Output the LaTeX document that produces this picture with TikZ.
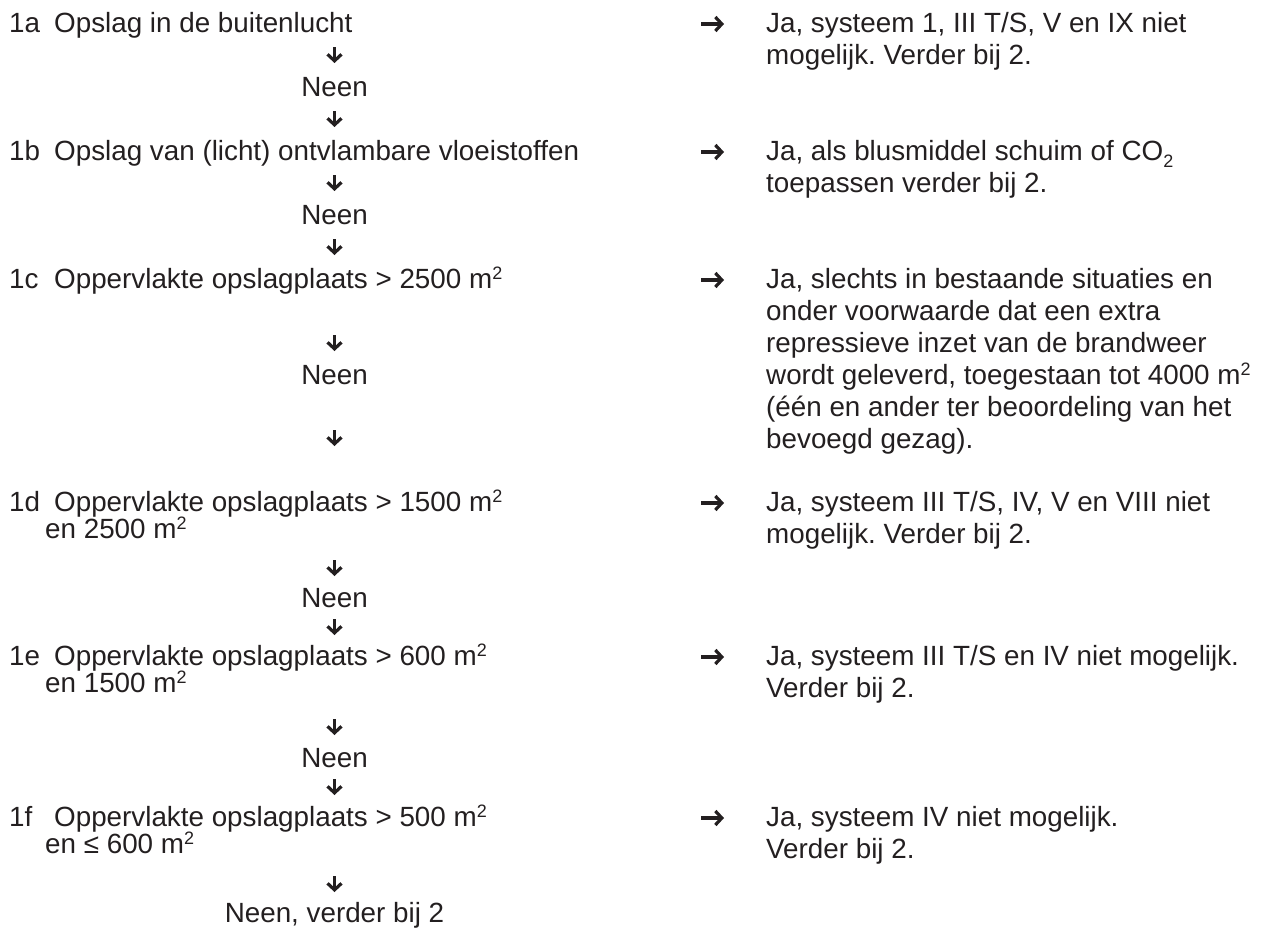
\documentclass[tikz,border=0pt]{standalone}
\usepackage{fontspec}
\setmainfont{Liberation Sans}
\usetikzlibrary{arrows.meta}
\definecolor{inkt}{RGB}{35,31,32}
\newcommand{\hoog}[1]{\raisebox{8.5pt}{\fontsize{18}{18}\selectfont #1}}
\newcommand{\laag}[1]{\raisebox{-7pt}{\fontsize{18}{18}\selectfont #1}}

\begin{document}
\frenchspacing
\begin{tikzpicture}[x=1pt,y=-1pt,
  every node/.style={inner sep=0pt,text=inkt,font=\fontsize{27.8}{32}\selectfont},
  tekst/.style={anchor=base west},
  neen/.style={anchor=base},
  pijl/.style={draw=inkt,line width=3.2pt,-{Straight Barb[length=6.5pt,width=14pt]}}]
\useasboundingbox (0,0) rectangle (1263,929);

\node[tekst] (n1a) at (9,32) {1a};
\node[tekst] (v1a) at (54,32) {Opslag in de buitenlucht};
\node[neen] (neen1) at (334.5,96) {Neen};
\node[tekst] (n1b) at (9,160) {1b};
\node[tekst] (v1b) at (54,160) {Opslag van (licht) ontvlambare vloeistoffen};
\node[neen] (neen2) at (334.5,224) {Neen};
\node[tekst] (n1c) at (9,288) {1c};
\node[tekst] (v1c) at (54,288) {Oppervlakte opslagplaats > 2500 m\hoog{2}};
\node[neen] (neen3) at (334.5,384) {Neen};
\node[tekst] (n1d) at (9,511) {1d};
\node[tekst] (v1d) at (54,511) {Oppervlakte opslagplaats > 1500 m\hoog{2}};
\node[tekst] (w1d) at (45,538) {en 2500 m\hoog{2}};
\node[neen] (neen4) at (334.5,607) {Neen};
\node[tekst] (n1e) at (9,665) {1e};
\node[tekst] (v1e) at (54,665) {Oppervlakte opslagplaats > 600 m\hoog{2}};
\node[tekst] (w1e) at (45,692) {en 1500 m\hoog{2}};
\node[neen] (neen5) at (334.5,767) {Neen};
\node[tekst] (n1f) at (9,826) {1f};
\node[tekst] (v1f) at (54,826) {Oppervlakte opslagplaats > 500 m\hoog{2}};
\node[tekst] (w1f) at (45,853) {en ≤ 600 m\hoog{2}};
\node[neen] (eind) at (334.5,922) {Neen, verder bij 2};

\node[tekst] (j1a) at (766,32) {Ja, systeem 1, III T/S, V en IX niet};
\node[tekst] (k1a) at (766,64) {mogelijk. Verder bij 2.};
\node[tekst] (j1b) at (766,160) {Ja, als blusmiddel schuim of CO\laag{2}};
\node[tekst] (k1b) at (766,192) {toepassen verder bij 2.};
\node[tekst] (j1c) at (766,288) {Ja, slechts in bestaande situaties en};
\node[tekst] (k1c) at (766,320) {onder voorwaarde dat een extra};
\node[tekst] (l1c) at (766,352) {repressieve inzet van de brandweer};
\node[tekst] (m1c) at (766,384) {wordt geleverd, toegestaan tot 4000 m\hoog{2}};
\node[tekst] (o1c) at (766,416) {(één en ander ter beoordeling van het};
\node[tekst] (p1c) at (766,448) {bevoegd gezag).};
\node[tekst] (j1d) at (766,511) {Ja, systeem III T/S, IV, V en VIII niet};
\node[tekst] (k1d) at (766,543) {mogelijk. Verder bij 2.};
\node[tekst] (j1e) at (766,665) {Ja, systeem III T/S en IV niet mogelijk.};
\node[tekst] (k1e) at (766,697) {Verder bij 2.};
\node[tekst] (j1f) at (766,826) {Ja, systeem IV niet mogelijk.};
\node[tekst] (k1f) at (766,858) {Verder bij 2.};

\foreach \y [count=\i] in {64,128,192,256,352,447,577,636,736,796,893}
  \draw[pijl] (334.5,\y-17) coordinate (neer\i) -- (334.5,\y-1);
\foreach \y [count=\i] in {32,160,288,511,665,826}
  \draw[pijl] (701,\y-8) coordinate (ja\i) -- (724,\y-8);
\end{tikzpicture}
\end{document}
